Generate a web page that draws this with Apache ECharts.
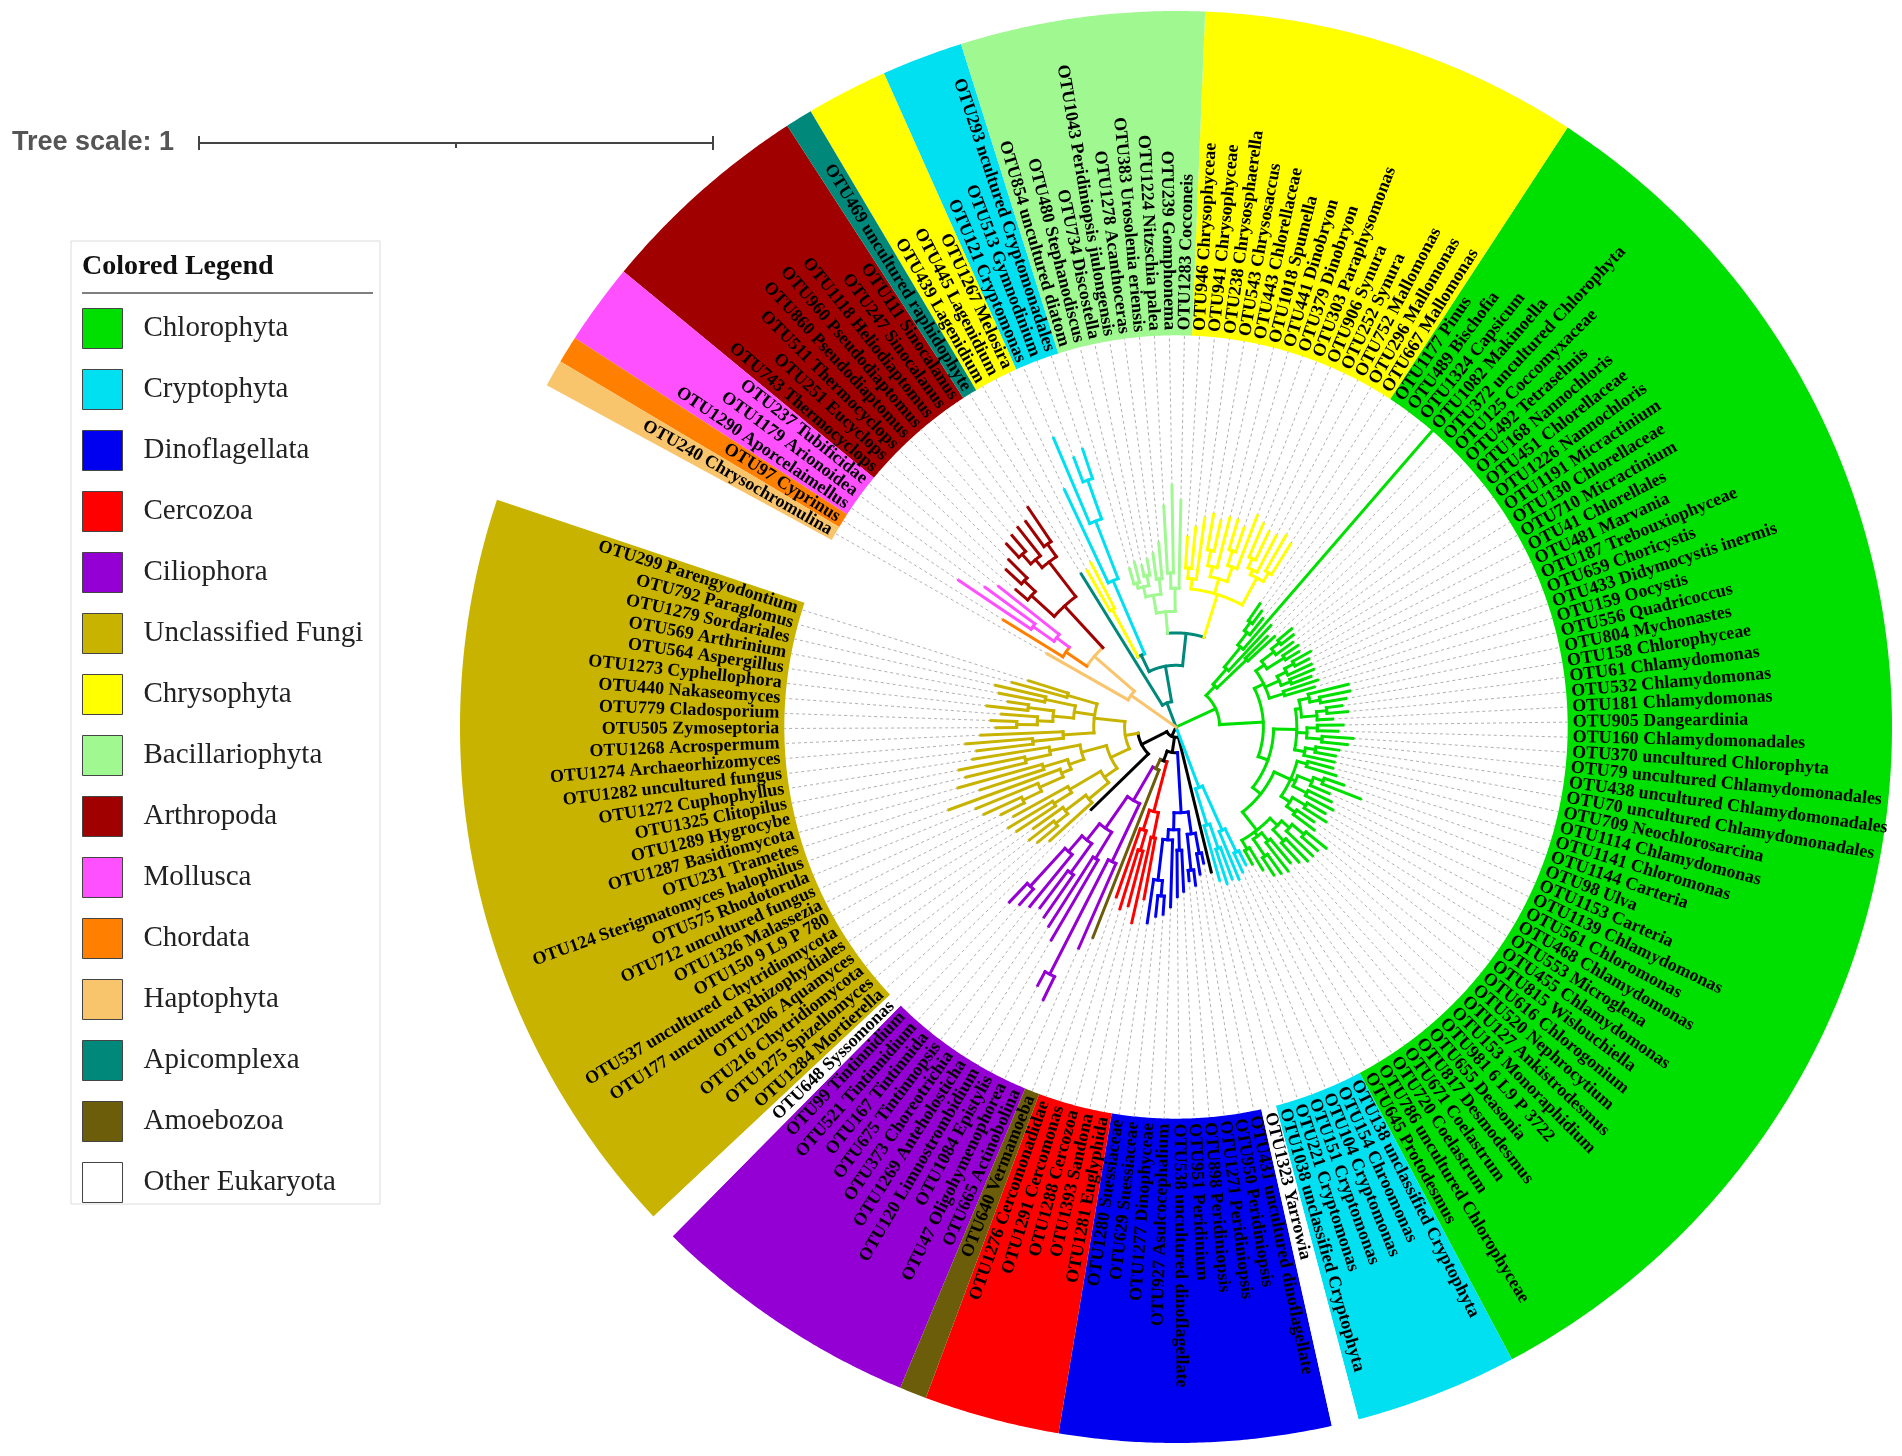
<!DOCTYPE html>
<html><head><meta charset="utf-8">
<script src="https://cdn.jsdelivr.net/npm/echarts@6.0.0/dist/echarts.min.js"></script>
<style>html,body{margin:0;padding:0;background:#fff}#main{width:1902px;height:1456px}</style>
</head><body><div id="main"></div>
<script>
// ---------------- DATA ----------------
const groupNames = ['Chlorophyta','Cryptophyta','Dinoflagellata','Cercozoa','Ciliophora','Unclassified Fungi','Chrysophyta','Bacillariophyta','Arthropoda','Mollusca','Chordata','Haptophyta','Apicomplexa','Amoebozoa','Other Eukaryota'];
const groupColors = ['#00E000','#00E0F0','#0000F0','#FF0000','#9400D3','#C8B400','#FFFF00','#A0F890','#A00000','#FF50FF','#FF8000','#F8C46C','#00897B','#6B5D0A','#FFFFFF'];

const fungiLabels = ['OTU299 Parengyodontium','OTU792 Paraglomus','OTU1279 Sordariales','OTU569 Arthrinium','OTU564 Aspergillus','OTU1273 Cyphellophora','OTU440 Nakaseomyces','OTU779 Cladosporium','OTU505 Zymoseptoria','OTU1268 Acrospermum','OTU1274 Archaeorhizomyces','OTU1282 uncultured fungus','OTU1272 Cuphophyllus','OTU1325 Clitopilus','OTU1289 Hygrocybe','OTU1287 Basidiomycota','OTU231 Trametes','OTU124 Sterigmatomyces halophilus','OTU575 Rhodotorula','OTU712 uncultured fungus','OTU1326 Malassezia','OTU150 9 L9 P 780','OTU537 uncultured Chytridiomycota','OTU177 uncultured Rhizophydiales','OTU1206 Aquamyces','OTU216 Chytridiomycota','OTU1275 Spizellomyces','OTU1284 Mortierella'];
const syssoLabels = ['OTU648 Syssomonas'];
const cilioLabels = ['OTU99 Tintinnidium','OTU521 Tintinnidium','OTU167 Tintinnida','OTU675 Tintinnopsis','OTU373 Choreotrichia','OTU1269 Anteholosticha','OTU120 Limnostrombidium','OTU1084 Epistylis','OTU47 Oligohymenophorea','OTU665 Actinobolina'];
const amoebLabels = ['OTU640 Vermamoeba'];
const cercoLabels = ['OTU1276 Cercomonadidae','OTU1291 Cercomonas','OTU1288 Cercozoa','OTU1393 Sandona','OTU1281 Euglyphida'];
const dinoLabels = ['OTU1280 Suessiaceae','OTU629 Suessiaceae','OTU1277 Dinophyceae','OTU927 Asulcocephalium','OTU538 uncultured dinoflagellate','OTU951 Peridinium','OTU898 Peridiniopsis','OTU1271 Peridiniopsis','OTU950 Peridiniopsis','OTU431 uncultured dinoflagellate'];
const yarrowLabels = ['OTU1323 Yarrowia'];
const cryptoLabels = ['OTU1038 unclassified Cryptophyta','OTU221 Cryptomonas','OTU151 Cryptomonas','OTU104 Cryptomonas','OTU154 Chroomonas','OTU138 unclassified Cryptophyta'];
const chloroLabels = ['OTU645 Protodesmus','OTU786 uncultured Chlorophyceae','OTU720 Coelastrum','OTU671 Coelastrum','OTU817 Desmodesmus','OTU655 Deasonia','OTU981 6 L9 P 3722','OTU153 Monoraphidium','OTU127 Ankistrodesmus','OTU520 Nephrocytium','OTU616 Chlorogonium','OTU815 Wislouchiella','OTU455 Chlamydomonas','OTU553 Microglena','OTU468 Chlamydomonas','OTU561 Chloromonas','OTU1139 Chlamydomonas','OTU1153 Carteria','OTU98 Ulva','OTU1144 Carteria','OTU1141 Chloromonas','OTU1114 Chlamydomonas','OTU709 Neochlorosarcina','OTU70 uncultured Chlamydomonadales','OTU438 uncultured Chlamydomonadales','OTU79 uncultured Chlamydomonadales','OTU370 uncultured Chlorophyta','OTU160 Chlamydomonadales','OTU905 Dangeardinia','OTU181 Chlamydomonas','OTU532 Chlamydomonas','OTU61 Chlamydomonas','OTU158 Chlorophyceae','OTU804 Mychonastes','OTU556 Quadricoccus','OTU159 Oocystis','OTU433 Didymocystis inermis','OTU659 Choricystis','OTU187 Trebouxiophyceae','OTU481 Marvania','OTU41 Chlorellales','OTU710 Micractinium','OTU130 Chlorellaceae','OTU1191 Micractinium','OTU1226 Nannochloris','OTU451 Chlorellaceae','OTU168 Nannochloris','OTU492 Tetraselmis','OTU125 Coccomyxaceae','OTU372 uncultured Chlorophyta','OTU1082 Makinoella','OTU1324 Capsicum','OTU489 Bischofia','OTU1177 Pinus'];
const chrysoLabels = ['OTU667 Mallomonas','OTU296 Mallomonas','OTU752 Mallomonas','OTU252 Synura','OTU906 Synura','OTU303 Paraphysomonas','OTU379 Dinobryon','OTU441 Dinobryon','OTU1018 Spumella','OTU443 Chlorellaceae','OTU543 Chrysosaccus','OTU238 Chrysosphaerella','OTU941 Chrysophyceae','OTU946 Chrysophyceae'];
const bacilLabels = ['OTU1283 Cocconeis','OTU239 Gomphonema','OTU1224 Nitzschia palea','OTU383 Urosolenia eriensis','OTU1278 Acanthoceras','OTU1043 Peridiniopsis jiulongensis','OTU734 Discostella','OTU480 Stephanodiscus','OTU854 uncultured diatom'];
const crypto2Labels = ['OTU293 ncultured Cryptomonadales','OTU513 Gymnodinium','OTU121 Cryptomonas'];
const chryso2Labels = ['OTU1267 Melosira','OTU445 Lagenidium','OTU439 Lagenidium'];
const apiLabels = ['OTU469 uncultured raphidophyte'];
const arthLabels = ['OTU111 Sinocalanus','OTU247 Sinocalanus','OTU1118 Heliodiaptomus','OTU960 Pseudodiaptomus','OTU860 Pseudodiaptomus','OTU511 Thermocyclops','OTU251 Eucyclops','OTU743 Thermocyclops'];
const mollLabels = ['OTU237 Tubificidae','OTU1179 Arionoidea','OTU1290 Aporcelaimellus'];
const chordLabels = ['OTU97 Cyprinus'];
const haptoLabels = ['OTU240 Chrysochromulina'];

// circular order of the sectors (counter-clockwise from the opening)
const sectorOrder = [
  ['Unclassified Fungi', fungiLabels], ['Other Eukaryota', syssoLabels], ['Ciliophora', cilioLabels],
  ['Amoebozoa', amoebLabels], ['Cercozoa', cercoLabels], ['Dinoflagellata', dinoLabels],
  ['Other Eukaryota', yarrowLabels], ['Cryptophyta', cryptoLabels], ['Chlorophyta', chloroLabels],
  ['Chrysophyta', chrysoLabels], ['Bacillariophyta', bacilLabels], ['Cryptophyta', crypto2Labels],
  ['Chrysophyta', chryso2Labels], ['Apicomplexa', apiLabels], ['Arthropoda', arthLabels],
  ['Mollusca', mollLabels], ['Chordata', chordLabels], ['Haptophyta', haptoLabels]
];
// branch colour exceptions (leaf id -> group colour of its branch)
const branchOverride = {OTU1267: 'Cryptophyta'};

// tree (Newick, branch lengths in tree units; internal names give colour of mixed nodes)
const fungiNwk = "(((OTU299:0.08,OTU792:0.11):0.06,((OTU1279:0.10,OTU569:0.09):0.06,((OTU564:0.04,OTU1273:0.08):0.05,(OTU440:0.07,(OTU779:0.05,OTU505:0.04):0.04):0.03):0.04):0.04,(OTU1268:0.16,(OTU1274:0.13,OTU1282:0.11):0.06):0.06):0.06,(((OTU1272:0.15,(OTU1325:0.13,OTU1289:0.12):0.05):0.06,((OTU1287:0.17,OTU231:0.13):0.05,(OTU124:0.23,(OTU575:0.13,(OTU712:0.08,OTU1326:0.05):0.04):0.05):0.02):0.03):0.05,((OTU150:0.12,(OTU537:0.10,OTU177:0.09):0.04):0.07,((OTU1206:0.07,(OTU216:0.06,OTU1275:0.05):0.03):0.05,OTU1284:0.11):0.05):0.03):0.04)";
const cilioNwk = "(((((OTU99:0.05,OTU521:0.04):0.10,OTU167:0.13):0.04,(OTU675:0.09,OTU373:0.10):0.07):0.04,(OTU1269:0.16,OTU120:0.18):0.06):0.075,((OTU1084:0.03,OTU47:0.05):0.25,OTU665:0.18):0.125)";
const cercoNwk = "((OTU1276:0.14,(OTU1291:0.12,OTU1288:0.11):0.04):0.04,(OTU1393:0.17,OTU1281:0.12):0.05)";
const dinoNwk = "((((OTU1280:0.085,(OTU629:0.04,OTU1277:0.035):0.03):0.08,OTU927:0.13):0.02,(OTU538:0.09,OTU951:0.08):0.04):0.033,((OTU898:0.02,OTU1271:0.03):0.07,(OTU950:0.04,OTU431:0.02):0.04):0.043)";
const cryptoNwk = "((OTU1038:0.11,(OTU221:0.07,OTU151:0.065):0.05):0.074,(OTU104:0.10,(OTU154:0.04,OTU138:0.03):0.05):0.094)";
const chloraNwk = "((OTU645:0.03,OTU786:0.05):0.02,((OTU720:0.04,OTU671:0.045):0.04,(OTU817:0.07,OTU655:0.06):0.02):0.01,((OTU981:0.05,OTU153:0.06):0.03,(OTU127:0.07,(OTU520:0.04,OTU616:0.05):0.03):0.02):0.02)";
const chlorbNwk = "(((OTU815:0.05,OTU455:0.04):0.02,(OTU553:0.05,OTU468:0.04):0.03):0.02,((OTU561:0.06,OTU1139:0.05):0.03,(OTU1153:0.04,(OTU98:0.08,OTU1144:0.04):0.02):0.03):0.01,(OTU1141:0.06,OTU1114:0.05):0.02)";
const chlormNwk = "((OTU709:0.06,(OTU70:0.04,OTU438:0.045):0.02):0.02,((OTU79:0.05,OTU370:0.06):0.03,(OTU160:0.04,OTU905:0.05):0.02):0.02,((OTU181:0.03,(OTU532:0.04,OTU61:0.03):0.02):0.03,((OTU158:0.05,OTU804:0.06):0.02,OTU556:0.08):0.02):0.01)";
const trebNwk = "((OTU159:0.06,OTU433:0.07):0.03,((OTU659:0.04,OTU187:0.05):0.02,(OTU481:0.05,(OTU41:0.03,OTU710:0.04):0.02):0.02):0.03,((OTU130:0.03,OTU1191:0.035):0.04,(OTU1226:0.04,(OTU451:0.03,OTU168:0.035):0.02):0.03):0.02)";
const chlortopNwk = "((OTU492:0.07,OTU125:0.06):0.08,(OTU372:0.12,(OTU1082:0.563,(OTU1324:0.04,(OTU489:0.03,OTU1177:0.04):0.02):0.03):0.05):0.04)";
const chrysoNwk = "(((OTU667:0.07,OTU296:0.08):0.02,(OTU752:0.08,(OTU252:0.06,OTU906:0.07):0.02):0.01):0.06,((OTU303:0.11,(OTU379:0.05,OTU441:0.06):0.03):0.03,(OTU1018:0.10,(OTU443:0.06,OTU543:0.07):0.03):0.02):0.03,(OTU238:0.12,(OTU941:0.08,OTU946:0.06):0.02):0.02)";
const bacilNwk = "((OTU1283:0.17,(OTU239:0.17,OTU1224:0.13):0.03):0.045,((OTU383:0.07,OTU1278:0.05):0.03,((OTU1043:0.03,OTU734:0.02):0.02,(OTU480:0.04,OTU854:0.03):0.01):0.02):0.035)";
const crypto2Nwk = "(((OTU293:0.06,OTU513:0.05):0.08,OTU121:0.18):0.12,OTU1267:0.20)";
const chryso2Nwk = "(OTU445:0.10,OTU439:0.09)";
const arthNwk = "(((OTU111:0.08,OTU247:0.06):0.03,(OTU1118:0.07,(OTU960:0.04,OTU860:0.035):0.025):0.02):0.085,((OTU511:0.05,OTU251:0.04):0.03,OTU743:0.03):0.06)";
const mollNwk = "(OTU237:0.15,(OTU1179:0.12,OTU1290:0.17):0.05)";

const blackNwk = `((${fungiNwk}:0.025,OTU648:0.155):0.055,(((${cilioNwk}:0.075,OTU640:0.35)Amoebozoa:0.02,${cercoNwk}:0.10):0.02,${dinoNwk}:0.117):0.03,OTU1323:0.27)`;
const chloroNwk = `((((${chloraNwk}:0.045,${chlorbNwk}:0.035):0.02,${chlormNwk}:0.045):0.02,${trebNwk}:0.02):0.085,${chlortopNwk}:0.025)`;
const stramNwk = `(((${chrysoNwk}:0.087,${bacilNwk}:0.042)Apicomplexa:0.063,(${crypto2Nwk}:0.155,${chryso2Nwk}:0.105)Apicomplexa:0.035)Apicomplexa:0.07,OTU469:0.30)Apicomplexa`;
const haptoNwk = `((${arthNwk}:0.11,(${mollNwk}:0.031,OTU97:0.136)Chordata:0.049)Haptophyta:0.103,OTU240:0.181)Haptophyta`;
const treeNwk = `(${blackNwk}:0.02,${cryptoNwk}:0.126,${chloroNwk}:0.085,${stramNwk}:0.05,${haptoNwk}:0.107);`;

const treeScale = 1;          // scale bar length, tree units
const outerR = 1.393;         // outer edge of coloured ranges, tree units
const rangeInnerR = 0.762;    // inner edge of coloured ranges
const labelR = 0.772;         // label start
const arcSpan = 350;          // degrees used by the circle

// ---------------- BUILD ----------------
function parseNewick(str) {
  str = str.replace(/\s+/g, '');
  let i = 0;
  function node() {
    const n = {children: [], name: '', len: 0};
    if (str[i] === '(') {
      i++;
      n.children.push(node());
      while (str[i] === ',') { i++; n.children.push(node()); }
      i++;
    }
    let nm = '';
    while (i < str.length && ',():;'.indexOf(str[i]) < 0) nm += str[i++];
    n.name = nm;
    if (str[i] === ':') {
      i++; let num = '';
      while (i < str.length && ',();'.indexOf(str[i]) < 0) num += str[i++];
      n.len = parseFloat(num);
    }
    return n;
  }
  return node();
}
const leaves = [];
sectorOrder.forEach(([g, labels]) => labels.forEach(l => leaves.push({id: l.split(' ')[0], label: l, group: g})));
const idIndex = {};
leaves.forEach((l, k) => idIndex[l.id] = k);
const step = arcSpan / leaves.length;
const colorOf = g => groupColors[groupNames.indexOf(g)];
const branchColorOf = g => g === 'Other Eukaryota' ? '#000000' : colorOf(g);

const root = parseNewick(treeNwk);
function layout(n, pd) {
  n.depth = pd + (n.len || 0);
  if (!n.children.length) {
    n.idx = idIndex[n.name];
    if (n.idx === undefined) console.warn('missing', n.name);
    n.angle = (n.idx + 0.5) * step;
    leaves[n.idx].depth = n.depth;
    n.groups = new Set([branchOverride[n.name] || leaves[n.idx].group]);
  } else {
    n.children.forEach(c => layout(c, n.depth));
    n.angle = (n.children[0].angle + n.children[n.children.length - 1].angle) / 2;
    n.groups = new Set();
    n.children.forEach(c => c.groups.forEach(g => n.groups.add(g)));
  }
  if (n.groups.size === 1) n.color = branchColorOf([...n.groups][0]);
  else n.color = groupNames.indexOf(n.name) >= 0 ? colorOf(n.name) : '#000000';
}
layout(root, 0);

const segData = [], segColors = [];
(function collect(n, parent) {
  if (parent) { segData.push([parent.depth, n.angle, n.depth, n.angle, 0]); segColors.push(n.color); }
  if (n.children.length) {
    if (n.depth > 0) {
      segData.push([n.depth, n.children[0].angle, n.depth, n.children[n.children.length - 1].angle, 1]);
      segColors.push(n.color);
    }
    n.children.forEach(c => collect(c, n));
  }
})(root, null);

// coloured ranges: contiguous runs
const runsByGroup = {};
groupNames.forEach(g => runsByGroup[g] = []);
let cursor = 0;
sectorOrder.forEach(([g, labels]) => {
  runsByGroup[g].push([rangeInnerR, cursor * step, outerR, (cursor + labels.length) * step]);
  cursor += labels.length;
});

function arcPts(api, r, a0, a1) {
  const n = Math.max(2, Math.ceil(Math.abs(a1 - a0) / 0.3));
  const pts = [];
  for (let k = 0; k <= n; k++) pts.push(api.coord([r, a0 + (a1 - a0) * k / n]));
  return pts;
}

const series = [];
groupNames.forEach((g, gi) => {
  series.push({
    type: 'custom', name: g, coordinateSystem: 'polar', z: 1, silent: true,
    itemStyle: {color: groupColors[gi]},
    data: runsByGroup[g],
    renderItem: (params, api) => {
      const r0 = api.value(0), a0 = api.value(1), r1 = api.value(2), a1 = api.value(3);
      const pts = arcPts(api, r1, a0, a1).concat(arcPts(api, r0, a1, a0));
      return {type: 'polygon', shape: {points: pts}, style: {fill: groupColors[gi], stroke: null}};
    }
  });
});
// dashed leader lines
series.push({
  type: 'custom', coordinateSystem: 'polar', z: 2, silent: true,
  data: leaves.map((l, k) => [l.depth, (k + 0.5) * step, rangeInnerR]),
  renderItem: (params, api) => {
    const a = api.value(1);
    const p0 = api.coord([api.value(0), a]), p1 = api.coord([api.value(2), a]);
    return {type: 'line', shape: {x1: p0[0], y1: p0[1], x2: p1[0], y2: p1[1]},
      style: {stroke: '#b0b0b0', lineWidth: 1, lineDash: [3, 3]}};
  }
});
// branches
series.push({
  type: 'custom', coordinateSystem: 'polar', z: 3, silent: true,
  data: segData,
  renderItem: (params, api) => {
    const r0 = api.value(0), a0 = api.value(1), r1 = api.value(2), a1 = api.value(3), t = api.value(4);
    const pts = t === 0 ? [api.coord([r0, a0]), api.coord([r1, a0])] : arcPts(api, r0, a0, a1);
    return {type: 'polyline', shape: {points: pts},
      style: {stroke: segColors[params.dataIndex], lineWidth: 3, fill: null, lineCap: 'square', lineJoin: 'miter'}};
  }
});
// leaf labels
series.push({
  type: 'custom', coordinateSystem: 'polar', z: 4, silent: true,
  data: leaves.map((l, k) => [labelR, (k + 0.5) * step, k]),
  renderItem: (params, api) => {
    const a = api.value(1);
    const p = api.coord([api.value(0), a]);
    const c = api.coord([0, a]);
    let th = Math.atan2(c[1] - p[1], p[0] - c[0]) * 180 / Math.PI;
    if (th < 0) th += 360;
    const left = th > 90 && th < 270;
    const rot = (left ? th - 180 : th) * Math.PI / 180;
    return {type: 'text', x: p[0], y: p[1], rotation: rot,
      style: {text: leaves[api.value(2)].label, fill: '#000',
        font: 'bold 18px "Liberation Serif", "DejaVu Serif", serif',
        align: left ? 'right' : 'left', verticalAlign: 'middle'}};
  }
});
// tree scale bar
series.push({
  type: 'custom', coordinateSystem: 'polar', z: 5, silent: true,
  data: [[0, 0, treeScale]],
  renderItem: (params, api) => {
    const c = api.coord([0, 0]), e = api.coord([api.value(2), 0]);
    const len = Math.hypot(e[0] - c[0], e[1] - c[1]);
    const x0 = 199, y0 = 143, st = {stroke: '#444', lineWidth: 2};
    return {type: 'group', children: [
      {type: 'text', x: 12, y: y0, style: {text: 'Tree scale: ' + api.value(2), fill: '#555',
        font: 'bold 27px "Liberation Sans", Arial, sans-serif', align: 'left', verticalAlign: 'middle'}},
      {type: 'line', shape: {x1: x0, y1: y0, x2: x0 + len, y2: y0}, style: st},
      {type: 'line', shape: {x1: x0, y1: y0 - 7, x2: x0, y2: y0 + 7}, style: st},
      {type: 'line', shape: {x1: x0 + len, y1: y0 - 7, x2: x0 + len, y2: y0 + 7}, style: st},
      {type: 'line', shape: {x1: x0 + len / 2, y1: y0, x2: x0 + len / 2, y2: y0 + 5}, style: st}
    ]};
  }
});

const chart = echarts.init(document.getElementById('main'));
chart.setOption({
  animation: false,
  backgroundColor: '#ffffff',
  polar: {center: [1176, 727], radius: 716},
  radiusAxis: {type: 'value', min: 0, max: outerR, axisLine: {show: false}, axisTick: {show: false}, axisLabel: {show: false}, splitLine: {show: false}},
  angleAxis: {type: 'value', min: 0, max: 360, startAngle: 161.5, clockwise: false, axisLine: {show: false}, axisTick: {show: false}, axisLabel: {show: false}, splitLine: {show: false}},
  legend: {
    orient: 'vertical', left: 82, top: 308, padding: 0, itemWidth: 40, itemHeight: 40, itemGap: 20,
    selectedMode: false,
    textStyle: {fontFamily: '"Liberation Serif", "DejaVu Serif", serif', fontSize: 29, color: '#222', padding: [0, 0, 0, 16]},
    data: groupNames.map((g, i) => ({name: g, icon: 'rect', itemStyle: {color: groupColors[i], borderColor: '#444', borderWidth: 1}}))
  },
  graphic: [
    {type: 'rect', shape: {x: 71, y: 241, width: 309, height: 963}, style: {fill: 'none', stroke: '#dcdcdc', lineWidth: 1}},
    {type: 'text', x: 82, y: 267, style: {text: 'Colored Legend', fill: '#111', font: 'bold 28px "Liberation Serif", "DejaVu Serif", serif', verticalAlign: 'middle'}},
    {type: 'line', shape: {x1: 82, y1: 293, x2: 373, y2: 293}, style: {stroke: '#555', lineWidth: 1.5}}
  ],
  series: series
});
</script></body></html>
